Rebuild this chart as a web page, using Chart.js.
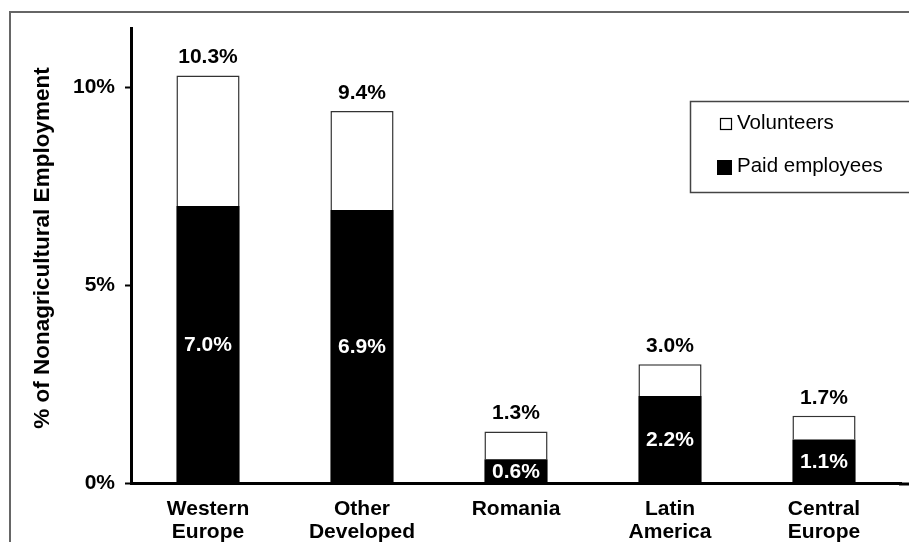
<!DOCTYPE html>
<html>
<head>
<meta charset="utf-8">
<script src="https://cdn.jsdelivr.net/npm/chart.js@4"></script>
<style>
  body { margin: 0; background: #fff; }
  #wrap { position: relative; width: 909px; height: 542px; overflow: hidden; }
  #frame { position: absolute; left: 9px; top: 11px; width: 1000px; height: 600px;
           border-top: 2px solid #666; border-left: 2px solid #666; }
  #myChart { position: absolute; left: 0; top: 0; }
</style>
</head>
<body>
<div id="wrap">
  <div id="frame"></div>
  <canvas id="myChart" width="909" height="542"></canvas>
</div>
<script>
"strict mode";

const regions = [["Western", "Europe"], ["Other", "Developed"], "Romania", ["Latin", "America"], ["Central", "Europe"]];
const paidEmployees = [7.0, 6.9, 0.6, 2.2, 1.1];
const volunteers = [3.3, 2.5, 0.7, 0.8, 0.6];
const totals = [10.3, 9.4, 1.3, 3.0, 1.7];
const yTicks = [0, 5, 10];
const yTitle = "% of Nonagricultural Employment";

const FONT = "'Liberation Sans', Arial, sans-serif";
Chart.defaults.font.family = FONT;
Chart.defaults.color = "#000";

// value labels: white inside black bars, totals above
const labelPlugin = {
  id: "labels",
  afterDatasetsDraw(chart) {
    const ctx = chart.ctx;
    const paidMeta = chart.getDatasetMeta(0);
    const volMeta = chart.getDatasetMeta(1);
    ctx.save();
    ctx.font = "bold 21px " + FONT;
    ctx.textAlign = "center";
    ctx.textBaseline = "middle";
    paidMeta.data.forEach((bar, i) => {
      ctx.fillStyle = "#fff";
      ctx.fillText(paidEmployees[i].toFixed(1) + "%", bar.x, (bar.y + bar.base) / 2 + 1);
      const top = volMeta.data[i];
      ctx.fillStyle = "#000";
      ctx.fillText(totals[i].toFixed(1) + "%", top.x, top.y - 18);
    });
    ctx.restore();
  },
};

// axis extension, y title and boxed legend
const extrasPlugin = {
  id: "extras",
  afterDraw(chart) {
    const ctx = chart.ctx;
    const area = chart.chartArea;
    ctx.save();
    ctx.strokeStyle = "#000";
    ctx.lineWidth = 3;
    ctx.beginPath();
    ctx.moveTo(area.right - 2, area.bottom + 1);
    ctx.lineTo(chart.width, area.bottom + 1);
    ctx.stroke();

    ctx.save();
    ctx.translate(43, 248);
    ctx.rotate(-Math.PI / 2);
    ctx.font = "bold 22.5px " + FONT;
    ctx.fillStyle = "#000";
    ctx.textAlign = "center";
    ctx.textBaseline = "middle";
    ctx.fillText(yTitle, 0, 0);
    ctx.restore();

    ctx.strokeStyle = "#444";
    ctx.lineWidth = 1.5;
    ctx.strokeRect(690.5, 101.5, 260, 91);

    ctx.font = "20.5px " + FONT;
    ctx.textAlign = "left";
    ctx.textBaseline = "middle";
    ctx.fillStyle = "#fff";
    ctx.lineWidth = 1.2;
    ctx.strokeStyle = "#000";
    ctx.fillRect(720, 118, 12, 12);
    ctx.strokeRect(720.5, 118.5, 11, 11);
    ctx.fillStyle = "#000";
    ctx.fillText(chart.data.datasets[1].label, 737, 123);
    ctx.fillRect(717, 160, 15, 15);
    ctx.fillText(chart.data.datasets[0].label, 737, 166);
    ctx.restore();
  },
};

new Chart(document.getElementById("myChart"), {
  type: "bar",
  data: {
    labels: regions,
    datasets: [
      {
        label: "Paid employees",
        data: paidEmployees,
        backgroundColor: "#000",
        borderColor: "#000",
        borderWidth: 0,
        barPercentage: 0.82,
        categoryPercentage: 0.5,
      },
      {
        label: "Volunteers",
        data: volunteers,
        backgroundColor: "#fff",
        borderColor: "#333",
        borderWidth: 1.5,
        borderSkipped: "bottom",
        barPercentage: 0.82,
        categoryPercentage: 0.5,
      },
    ],
  },
  options: {
    responsive: false,
    animation: false,
    layout: { padding: { top: 28, right: 8, left: 0, bottom: 0 } },
    plugins: { legend: { display: false }, tooltip: { enabled: false } },
    scales: {
      x: {
        stacked: true,
        grid: { display: false },
        border: { display: true, color: "#000", width: 3 },
        ticks: { font: { size: 21, weight: "bold", lineHeight: 1.1 }, padding: 7, maxRotation: 0, autoSkip: false },
        afterFit: (s) => { s.height = 59; },
      },
      y: {
        stacked: true,
        min: 0,
        max: 11.5,
        border: { display: true, color: "#000", width: 3 },
        grid: { drawOnChartArea: false, drawTicks: true, tickLength: 6, tickWidth: 2, tickColor: "#000" },
        ticks: { stepSize: 5, padding: 10, font: { size: 21, weight: "bold" }, callback: (v) => v + "%" },
        afterBuildTicks: (s) => { s.ticks = yTicks.map((v) => ({ value: v })); },
        afterFit: (s) => { s.width = 131; },
      },
    },
  },
  plugins: [labelPlugin, extrasPlugin],
});
</script>
</body>
</html>
